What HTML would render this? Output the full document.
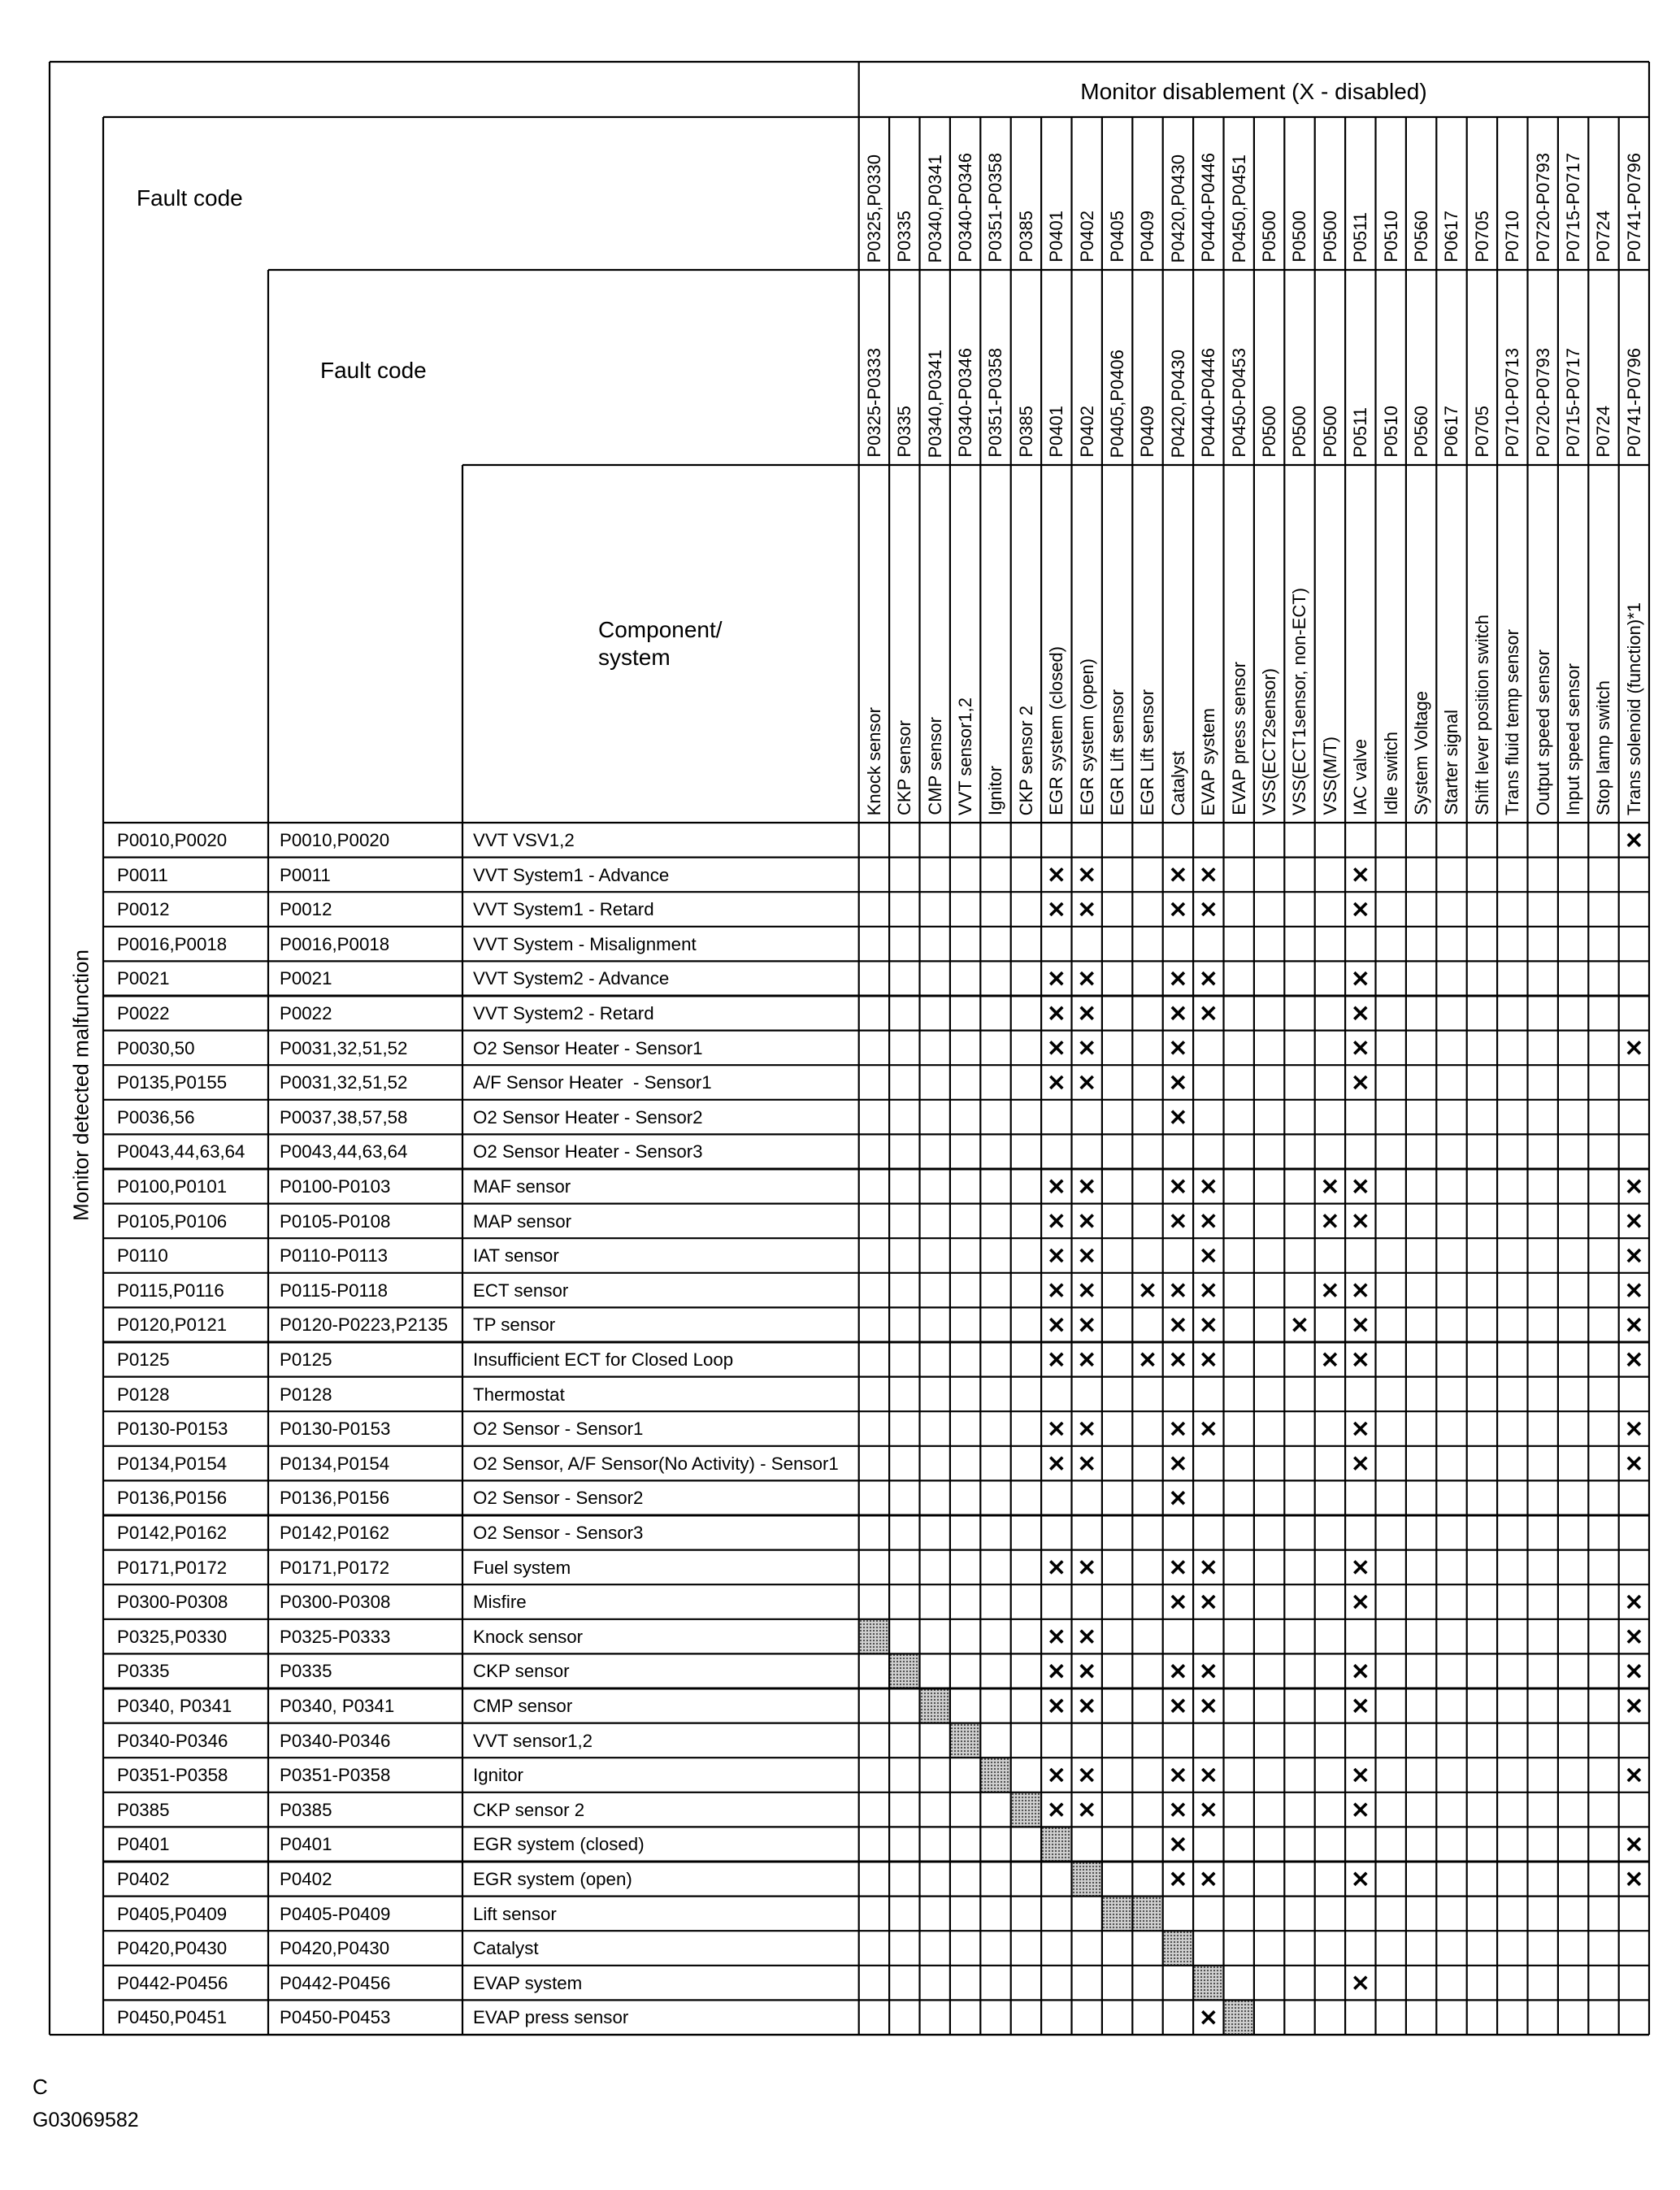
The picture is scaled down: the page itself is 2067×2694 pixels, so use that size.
<!DOCTYPE html>
<html><head><meta charset="utf-8">
<style>
html,body{margin:0;padding:0;background:#fff;}
body{width:2067px;height:2694px;position:relative;overflow:hidden;font-family:"Liberation Sans",Arial,sans-serif;color:#000;}
.a{position:absolute;}
.ln{position:absolute;background:#000;}
.t{position:absolute;white-space:nowrap;}
.hd span{position:absolute;white-space:nowrap;writing-mode:vertical-rl;transform:rotate(180deg);font-size:22px;line-height:37px;width:37px;}
.r{position:absolute;left:0;width:2067px;height:43px;}
.r span{position:absolute;top:0;line-height:43px;font-size:22.3px;white-space:nowrap;}
.r span:nth-child(1){left:144px}
.r span:nth-child(2){left:344px}
.r span:nth-child(3){left:582px}
.hat{position:absolute;background-color:#cfcfcf;background-image:radial-gradient(#444 0.9px,transparent 1.3px);background-size:4px 4px;}
</style></head><body>

<div class="t" style="left:1056px;width:973px;top:97px;text-align:center;font-size:28px;">Monitor disablement (X - disabled)</div>
<div class="t" style="left:168px;top:228px;font-size:28px;">Fault code</div>
<div class="t" style="left:394px;top:440px;font-size:28px;">Fault code</div>
<div class="t" style="left:736px;top:758px;font-size:28px;line-height:34px;">Component/<br>system</div>
<div class="t" style="left:100px;top:1335px;font-size:26px;transform:translate(-50%,-50%) rotate(-90deg);">Monitor detected malfunction</div>
<div class="t" style="left:40px;top:2552px;font-size:26px;">C</div>
<div class="t" style="left:40px;top:2594px;font-size:25px;">G03069582</div>

<div class="hd" id="h1">
<span>P0325,P0330</span><span>P0335</span><span>P0340,P0341</span><span>P0340-P0346</span><span>P0351-P0358</span><span>P0385</span><span>P0401</span><span>P0402</span><span>P0405</span><span>P0409</span><span>P0420,P0430</span><span>P0440-P0446</span><span>P0450,P0451</span><span>P0500</span><span>P0500</span><span>P0500</span><span>P0511</span><span>P0510</span><span>P0560</span><span>P0617</span><span>P0705</span><span>P0710</span><span>P0720-P0793</span><span>P0715-P0717</span><span>P0724</span><span>P0741-P0796</span>
</div>
<div class="hd" id="h2">
<span>P0325-P0333</span><span>P0335</span><span>P0340,P0341</span><span>P0340-P0346</span><span>P0351-P0358</span><span>P0385</span><span>P0401</span><span>P0402</span><span>P0405,P0406</span><span>P0409</span><span>P0420,P0430</span><span>P0440-P0446</span><span>P0450-P0453</span><span>P0500</span><span>P0500</span><span>P0500</span><span>P0511</span><span>P0510</span><span>P0560</span><span>P0617</span><span>P0705</span><span>P0710-P0713</span><span>P0720-P0793</span><span>P0715-P0717</span><span>P0724</span><span>P0741-P0796</span>
</div>
<div class="hd" id="h3">
<span>Knock sensor</span><span>CKP sensor</span><span>CMP sensor</span><span>VVT sensor1,2</span><span>Ignitor</span><span>CKP sensor 2</span><span>EGR system (closed)</span><span>EGR system (open)</span><span>EGR Lift sensor</span><span>EGR Lift sensor</span><span>Catalyst</span><span>EVAP system</span><span>EVAP press sensor</span><span>VSS(ECT2sensor)</span><span>VSS(ECT1sensor, non-ECT)</span><span>VSS(M/T)</span><span>IAC valve</span><span>Idle switch</span><span>System Voltage</span><span>Starter signal</span><span>Shift lever position switch</span><span>Trans fluid temp sensor</span><span>Output speed sensor</span><span>Input speed sensor</span><span>Stop lamp switch</span><span>Trans solenoid (function)*1</span>
</div>

<div id="rows">
<div class="r"><span>P0010,P0020</span><span>P0010,P0020</span><span>VVT VSV1,2</span></div>
<div class="r"><span>P0011</span><span>P0011</span><span>VVT System1 - Advance</span></div>
<div class="r"><span>P0012</span><span>P0012</span><span>VVT System1 - Retard</span></div>
<div class="r"><span>P0016,P0018</span><span>P0016,P0018</span><span>VVT System - Misalignment</span></div>
<div class="r"><span>P0021</span><span>P0021</span><span>VVT System2 - Advance</span></div>
<div class="r"><span>P0022</span><span>P0022</span><span>VVT System2 - Retard</span></div>
<div class="r"><span>P0030,50</span><span>P0031,32,51,52</span><span>O2 Sensor Heater - Sensor1</span></div>
<div class="r"><span>P0135,P0155</span><span>P0031,32,51,52</span><span>A/F Sensor Heater &nbsp;- Sensor1</span></div>
<div class="r"><span>P0036,56</span><span>P0037,38,57,58</span><span>O2 Sensor Heater - Sensor2</span></div>
<div class="r"><span>P0043,44,63,64</span><span>P0043,44,63,64</span><span>O2 Sensor Heater - Sensor3</span></div>
<div class="r"><span>P0100,P0101</span><span>P0100-P0103</span><span>MAF sensor</span></div>
<div class="r"><span>P0105,P0106</span><span>P0105-P0108</span><span>MAP sensor</span></div>
<div class="r"><span>P0110</span><span>P0110-P0113</span><span>IAT sensor</span></div>
<div class="r"><span>P0115,P0116</span><span>P0115-P0118</span><span>ECT sensor</span></div>
<div class="r"><span>P0120,P0121</span><span>P0120-P0223,P2135</span><span>TP sensor</span></div>
<div class="r"><span>P0125</span><span>P0125</span><span>Insufficient ECT for Closed Loop</span></div>
<div class="r"><span>P0128</span><span>P0128</span><span>Thermostat</span></div>
<div class="r"><span>P0130-P0153</span><span>P0130-P0153</span><span>O2 Sensor - Sensor1</span></div>
<div class="r"><span>P0134,P0154</span><span>P0134,P0154</span><span>O2 Sensor, A/F Sensor(No Activity) - Sensor1</span></div>
<div class="r"><span>P0136,P0156</span><span>P0136,P0156</span><span>O2 Sensor - Sensor2</span></div>
<div class="r"><span>P0142,P0162</span><span>P0142,P0162</span><span>O2 Sensor - Sensor3</span></div>
<div class="r"><span>P0171,P0172</span><span>P0171,P0172</span><span>Fuel system</span></div>
<div class="r"><span>P0300-P0308</span><span>P0300-P0308</span><span>Misfire</span></div>
<div class="r"><span>P0325,P0330</span><span>P0325-P0333</span><span>Knock sensor</span></div>
<div class="r"><span>P0335</span><span>P0335</span><span>CKP sensor</span></div>
<div class="r"><span>P0340, P0341</span><span>P0340, P0341</span><span>CMP sensor</span></div>
<div class="r"><span>P0340-P0346</span><span>P0340-P0346</span><span>VVT sensor1,2</span></div>
<div class="r"><span>P0351-P0358</span><span>P0351-P0358</span><span>Ignitor</span></div>
<div class="r"><span>P0385</span><span>P0385</span><span>CKP sensor 2</span></div>
<div class="r"><span>P0401</span><span>P0401</span><span>EGR system (closed)</span></div>
<div class="r"><span>P0402</span><span>P0402</span><span>EGR system (open)</span></div>
<div class="r"><span>P0405,P0409</span><span>P0405-P0409</span><span>Lift sensor</span></div>
<div class="r"><span>P0420,P0430</span><span>P0420,P0430</span><span>Catalyst</span></div>
<div class="r"><span>P0442-P0456</span><span>P0442-P0456</span><span>EVAP system</span></div>
<div class="r"><span>P0450,P0451</span><span>P0450-P0453</span><span>EVAP press sensor</span></div>
</div>

<svg id="g" class="a" style="left:0;top:0" width="2067" height="2694"></svg>

<script>
(function(){
var C0=1056.7,CW=37.4,R0=1012,RH=42.6,L=61,T=76,RI=2029,B=2503;
var svg=document.getElementById('g');var NS='http://www.w3.org/2000/svg';
function line(x1,y1,x2,y2,w){var l=document.createElementNS(NS,'line');l.setAttribute('x1',x1);l.setAttribute('y1',y1);l.setAttribute('x2',x2);l.setAttribute('y2',y2);l.setAttribute('stroke','#000');l.setAttribute('stroke-width',w||2.2);svg.appendChild(l);}
var X=[[26],[7,8,11,12,17],[7,8,11,12,17],[],[7,8,11,12,17],[7,8,11,12,17],[7,8,11,17,26],[7,8,11,17],[11],[],
[7,8,11,12,16,17,26],[7,8,11,12,16,17,26],[7,8,12,26],[7,8,10,11,12,16,17,26],[7,8,11,12,15,17,26],[7,8,10,11,12,16,17,26],[],
[7,8,11,12,17,26],[7,8,11,17,26],[11],[],[7,8,11,12,17],[11,12,17,26],[7,8,26],[7,8,11,12,17,26],[7,8,11,12,17,26],[],
[7,8,11,12,17,26],[7,8,11,12,17],[11,26],[11,12,17,26],[],[],[17],[12]];
var H=[[],[],[],[],[],[],[],[],[],[],[],[],[],[],[],[],[],[],[],[],[],[],[],[1],[2],[3],[4],[5],[6],[7],[8],[9,10],[11],[12],[13]];
for(var r=0;r<35;r++){
  H[r].forEach(function(c){var d=document.createElement('div');d.className='hat';d.style.left=(C0+(c-1)*CW)+'px';d.style.top=(R0+r*RH)+'px';d.style.width=CW+'px';d.style.height=RH+'px';document.body.insertBefore(d,svg);});
}
var rows=document.querySelectorAll('#rows .r');
for(var i=0;i<rows.length;i++){rows[i].style.top=(R0+i*RH)+'px';}
function hdr(id,top,bot){var s=document.querySelectorAll('#'+id+' span');for(var k=0;k<s.length;k++){s[k].style.left=(C0+k*CW)+'px';s[k].style.top='auto';s[k].style.bottom=(2694-bot+9)+'px';}}
hdr('h1',144,332);hdr('h2',332,572);hdr('h3',572,1012);
line(L,T,RI,T);line(L,B,RI,B);line(L,T,L,B);line(RI,T,RI,B);
line(C0,T,C0,1012);
line(127,144,RI,144);line(127,144,127,B);
line(330,332,RI,332);line(330,332,330,B);
line(569,572,RI,572);line(569,572,569,B);
for(var k=1;k<26;k++){var x=C0+k*CW;line(x,144,x,B);}
line(C0,1012,C0,B);
for(var r2=0;r2<=35;r2++){var y=R0+r2*RH;line(127,y,RI,y,(r2%5==0&&r2>0&&r2<35)?3:2.2);}
for(var r3=0;r3<35;r3++){X[r3].forEach(function(c){var cx=C0+(c-0.5)*CW,cy=R0+(r3+0.5)*RH,h=7.5;line(cx-h,cy-h,cx+h,cy+h,3.6);line(cx-h,cy+h,cx+h,cy-h,3.6);});}
})();
</script>
</body></html>
